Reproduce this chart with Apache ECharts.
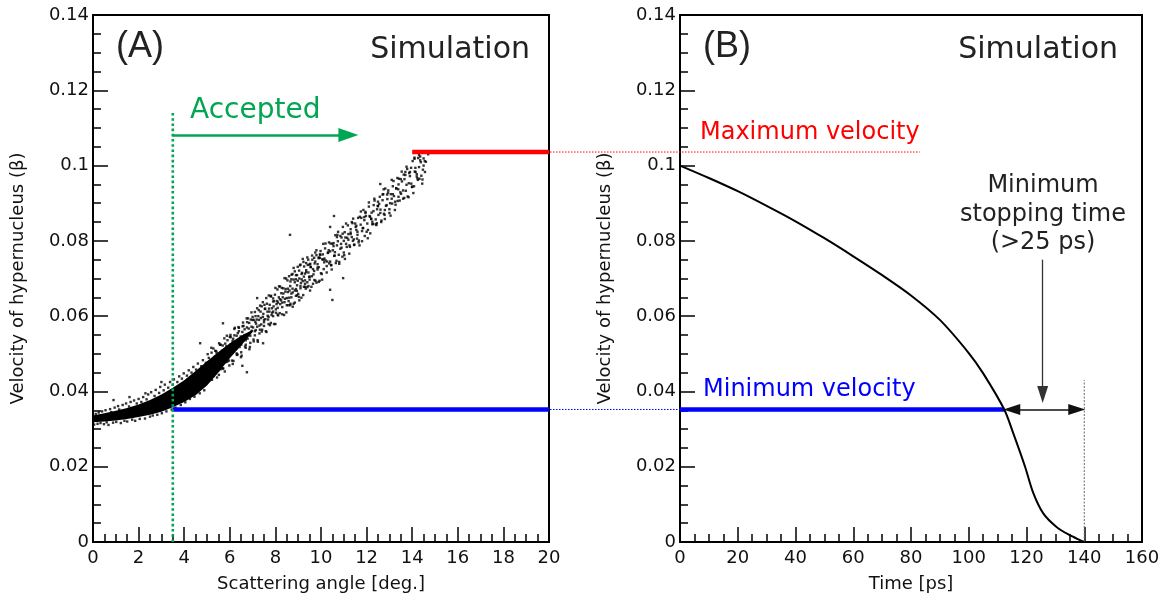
<!DOCTYPE html>
<html>
<head>
<meta charset="utf-8">
<script src="https://cdn.jsdelivr.net/npm/echarts@6/dist/echarts.min.js"></script>
<style>
  html, body { margin: 0; padding: 0; background: #fff; }
  #chart { width: 1167px; height: 607px; }
</style>
</head>
<body>
<div id="chart"></div>
<script>
// ---- Panel A: simulated hypernucleus velocity vs. scattering angle ----
// Dense core of the event band (angle in deg, beta lower / upper edge)
const coreAngle = [0, 0.5, 1, 1.5, 2, 2.5, 3, 3.5, 4, 4.5, 5, 5.5, 6, 6.5, 7];
const coreLow   = [0.0318, 0.0320, 0.0323, 0.0327, 0.0332, 0.0338, 0.0346, 0.0358, 0.0372, 0.0390, 0.0416, 0.0450, 0.0488, 0.0522, 0.0558];
const coreHigh  = [0.0336, 0.0342, 0.0349, 0.0356, 0.0365, 0.0377, 0.0392, 0.0410, 0.0430, 0.0454, 0.0480, 0.0505, 0.0528, 0.0548, 0.0564];

// Individual events, [angle (deg), beta]
const eventsLowAngle = [
  [0.05,.0312],[0.12,.0340],[0.2,.0314],[0.25,.0344],[0.33,.0316],[0.4,.0347],[0.48,.0313],[0.55,.0350],
  [0.6,.0318],[0.68,.0311],[0.75,.0353],[0.8,.0345],[0.88,.0317],[0.95,.0357],[1.02,.0319],[1.1,.0361],
  [1.15,.0352],[1.22,.0316],[1.3,.0364],[1.38,.0322],[1.45,.0368],[1.5,.0320],[1.58,.0360],[1.65,.0372],
  [1.72,.0325],[1.8,.0376],[1.85,.0322],[1.92,.0368],[2.0,.0380],[2.05,.0327],[2.12,.0372],[2.2,.0385],
  [2.28,.0328],[2.35,.0379],[2.42,.0392],[2.5,.0333],[2.55,.0398],[2.62,.0336],[2.7,.0388],[2.75,.0404],
  [2.82,.0338],[2.9,.0396],[2.95,.0412],[3.02,.0342],[3.1,.0403],[3.15,.0418],[3.22,.0347],[3.3,.0410],
  [3.38,.0425],[3.45,.0352],[3.5,.0418],[3.55,.0432],[3.62,.0357],[3.7,.0425],[3.78,.0440],[3.85,.0364],
  [3.9,.0434],[3.98,.0448],[4.05,.0371],[4.12,.0442],[4.2,.0456],[4.25,.0380],[4.32,.0450],[4.4,.0465],
  [4.45,.0386],[4.52,.0458],[4.6,.0474],[4.68,.0395],[4.75,.0467],[4.82,.0483],[4.88,.0403],[4.95,.0476],
  [0.9,.0377],[1.6,.0385],[2.3,.0395],[3.0,.0425],[4.7,.0528],[0.3,.0335],[1.75,.0340],[2.65,.0370],
  [3.4,.0395],[4.15,.0410]
];
const eventsMidAngle = [
  [5.02,.0441],[5.08,.0489],[5.12,.0461],[5.18,.0481],[5.22,.0431],[5.28,.0514],[5.33,.0480],[5.38,.0449],
  [5.42,.0503],[5.48,.0474],[5.52,.0444],[5.57,.0524],[5.62,.0473],[5.66,.0508],[5.71,.0461],[5.76,.0541],
  [5.8,.0504],[5.85,.0478],[5.9,.0536],[5.94,.0516],[5.98,.0469],[6.03,.0550],[6.07,.0502],[6.12,.0534],
  [6.16,.0481],[6.2,.0566],[6.25,.0520],[6.3,.0548],[6.34,.0498],[6.38,.0571],[6.43,.0518],[6.48,.0546],
  [6.52,.0495],[6.56,.0573],[6.6,.0536],[6.65,.0565],[6.7,.0516],[6.74,.0594],[6.78,.0540],[6.83,.0567],
  [6.88,.0518],[6.92,.0591],[6.96,.0561],[7.0,.0590],[7.05,.0533],[7.1,.0611],[7.14,.0563],[7.18,.0591],
  [7.22,.0536],[7.27,.0616],[7.32,.0564],[7.36,.0595],[7.4,.0559],[7.45,.0637],[7.5,.0590],[7.54,.0619],
  [7.58,.0560],[7.63,.0633],[7.68,.0591],[7.72,.0620],[7.76,.0576],[7.81,.0654],[7.86,.0609],[7.9,.0639],
  [7.94,.0579],[7.98,.0657],[8.03,.0609],[8.08,.0640],[8.12,.0602],[8.16,.0679],[8.21,.0632],[8.26,.0661],
  [8.3,.0605],[8.35,.0674],[8.4,.0637],[8.44,.0665],[8.48,.0610],[8.53,.0695],[8.58,.0640],[8.62,.0668],
  [8.66,.0633],[8.71,.0710],[8.76,.0663],[8.8,.0697],[8.85,.0636],[8.9,.0709],[8.94,.0667],[8.98,.0694],
  [9.03,.0651],[9.08,.0735],[9.12,.0688],[9.17,.0715],[9.22,.0656],[9.26,.0732],[9.3,.0686],[9.35,.0717],
  [9.4,.0677],[9.44,.0750],[9.48,.0704],[9.53,.0739],[9.58,.0678],[9.62,.0750],[9.67,.0711],[9.72,.0740],
  [9.76,.0694],[9.8,.0775],[9.85,.0729],[9.9,.0756],[9.94,.0694],[9.98,.0773],
  [5.05,.0470],[5.15,.0455],[5.25,.0485],[5.35,.0492],[5.45,.0468],[5.55,.0496],[5.65,.0487],[5.75,.0510],
  [5.85,.0520],[5.95,.0498],[6.05,.0525],[6.15,.0540],[6.25,.0532],[6.35,.0555],[6.45,.0540],[6.55,.0558],
  [6.65,.0550],[6.75,.0570],[6.85,.0582],[6.95,.0572],[7.05,.0590],[7.15,.0580],[7.25,.0600],[7.35,.0612],
  [7.45,.0598],[7.55,.0620],[7.65,.0612],[7.75,.0630],[7.85,.0621],[7.95,.0640],[8.05,.0632],[8.15,.0650],
  [8.25,.0642],[8.35,.0660],[8.45,.0672],[8.55,.0664],[8.65,.0680],[8.75,.0673],[8.85,.0690],[8.95,.0682],
  [9.05,.0700],[9.15,.0712],[9.25,.0705],[9.35,.0722],[9.45,.0716],[9.55,.0730],[9.65,.0725],[9.75,.0745],
  [9.85,.0738],[9.95,.0755],
  [5.1,.0448],[5.3,.0460],[5.5,.0476],[5.7,.0484],[5.9,.0494],[6.1,.0504],[6.3,.0515],[6.5,.0524],
  [6.7,.0536],[6.9,.0548],[7.1,.0560],[7.3,.0575],[7.5,.0584],[7.7,.0598],[7.9,.0612],[8.1,.0622],
  [8.3,.0636],[8.5,.0648],[8.7,.0660],[8.9,.0672],[9.1,.0680],[9.3,.0695],[9.5,.0705],[9.7,.0720],
  [9.9,.0730],
  [5.03,.0499],[5.11,.0430],[5.19,.0516],[5.27,.0446],[5.36,.0508],[5.44,.0437],[5.53,.0528],[5.61,.0459],
  [5.69,.0522],[5.78,.0453],[5.87,.0548],[5.96,.0482],[6.04,.0544],[6.13,.0473],[6.22,.0569],[6.31,.0497],
  [6.4,.0560],[6.49,.0491],[6.58,.0583],[6.67,.0519],[6.76,.0584],[6.86,.0512],[6.95,.0610],[7.04,.0538],
  [7.13,.0600],[7.23,.0532],[7.33,.0628],[7.42,.0564],[7.52,.0630],[7.61,.0558],[7.71,.0655],[7.8,.0582],
  [7.9,.0647],[8.0,.0579],[8.09,.0671],[8.19,.0608],[8.28,.0675],[8.38,.0603],[8.47,.0700],[8.57,.0629],
  [8.66,.0692],[8.76,.0625],[8.85,.0719],[8.95,.0655],[9.04,.0721],[9.14,.0649],[9.23,.0744],[9.33,.0673],
  [9.42,.0736],[9.52,.0668],[9.61,.0761],[9.71,.0696],[9.8,.0762],[9.9,.0691],[9.97,.0763],
  [5.2,.0503],[5.4,.0507],[5.6,.0524],[5.8,.0527],[6.0,.0545],[6.2,.0549],[6.4,.0569],[6.6,.0574],
  [6.8,.0594],[7.0,.0598],[7.2,.0621],[7.4,.0626],[7.6,.0648],[7.8,.0652],[8.0,.0675],[8.2,.0679],
  [8.4,.0701],[8.6,.0706],[8.8,.0728],[8.98,.0731],[9.2,.0752],[9.4,.0756],
  [5.3,.0441],[5.5,.0456],[5.7,.0461],[5.9,.0480],[6.1,.0482],[6.3,.0501],[6.5,.0504],[6.7,.0524],
  [6.9,.0529],[7.1,.0549],[7.3,.0554],[7.5,.0574],[7.7,.0579],[7.9,.0600],[8.1,.0604],[8.3,.0624],
  [8.5,.0629],[8.7,.0650],[8.9,.0654],[9.1,.0674],[9.3,.0678],[9.5,.0697],
  [7.02,.0570],[7.12,.0585],[7.2,.0572],[7.28,.0590],[7.38,.0578],[7.47,.0606],[7.56,.0592],[7.66,.0601],
  [7.74,.0612],[7.83,.0603],[7.92,.0626],[8.02,.0618],[8.11,.0636],[8.2,.0645],[8.32,.0650],[8.42,.0646],
  [8.55,.0673],[8.65,.0629],[8.75,.0712],[8.85,.0668],[8.95,.0709],[9.05,.0642],[9.15,.0698],[9.25,.0678],
  [9.35,.0741],[9.45,.0680],[9.55,.0731],[9.65,.0686],[9.75,.0769],[9.85,.0724],[9.95,.0764],
  [8.6,.0649],[8.7,.0698],[8.8,.0633],[8.9,.0698],[9.0,.0659],[9.1,.0737],[9.2,.0693],[9.3,.0713],
  [9.4,.0690],[9.5,.0737],[9.6,.0706],[9.7,.0755],[9.8,.0689],[9.9,.0754],
  [5.7,.0581],[7.2,.0648],[8.64,.0816],[7.46,.0528],[6.75,.0451],[6.55,.0468]
];
const eventsHighAngle = [
  [10.03,.0712],[10.08,.0764],[10.14,.0743],[10.2,.0793],[10.25,.0716],[10.31,.0769],[10.36,.0740],[10.42,.0793],
  [10.47,.0724],[10.52,.0775],[10.58,.0760],[10.63,.0815],[10.68,.0747],[10.74,.0799],[10.8,.0739],[10.85,.0813],
  [10.9,.0782],[10.96,.0837],[11.02,.0762],[11.07,.0809],[11.13,.0784],[11.18,.0841],[11.24,.0766],[11.3,.0831],
  [11.35,.0810],[11.41,.0859],[11.46,.0790],[11.52,.0837],[11.58,.0806],[11.63,.0861],[11.69,.0788],[11.74,.0843],
  [11.8,.0826],[11.86,.0882],[11.92,.0813],[11.97,.0866],[12.03,.0846],[12.1,.0891],[12.16,.0820],[12.22,.0875],
  [12.28,.0845],[12.34,.0912],[12.4,.0844],[12.46,.0884],[12.52,.0869],[12.58,.0917],[12.64,.0850],[12.7,.0908],
  [12.76,.0872],[12.82,.0939],[12.88,.0895],[12.94,.0928],[13.0,.0874],[13.06,.0924],[13.12,.0899],[13.18,.0959],
  [13.24,.0882],[13.3,.0940],[13.36,.0906],[13.42,.0965],[13.48,.0929],[13.54,.0984],[13.6,.0912],[13.66,.0964],
  [13.72,.0933],[13.78,.0991],[13.84,.0916],[13.9,.0972],[13.96,.0952],[14.02,.1012],[14.08,.0945],[14.14,.0994],
  [14.2,.0971],[14.26,.1020],[14.32,.0965],[14.38,.1009],[14.44,.0952],[14.5,.1000],[14.56,.0983],[14.3,.1028],
  [14.1,.1018],[14.7,.1030],
  [10.1,.0750],[10.4,.0772],[10.7,.0788],[11.0,.0800],[11.3,.0818],[11.6,.0824],[11.9,.0855],[12.2,.0858],
  [12.5,.0892],[12.8,.0882],[13.1,.0912],[13.4,.0950],[13.7,.0975],
  [10.05,.0751],[10.12,.0725],[10.18,.0780],[10.27,.0745],[10.34,.0775],[10.44,.0736],[10.55,.0794],[10.61,.0770],
  [10.72,.0816],[10.78,.0763],[10.88,.0792],[10.94,.0758],[11.04,.0823],[11.1,.0792],[11.2,.0818],[11.27,.0784],
  [11.38,.0847],[11.44,.0804],[11.55,.0829],[11.66,.0801],[11.77,.0861],[11.83,.0834],[11.95,.0877],[12.06,.0829],
  [12.13,.0866],[12.25,.0851],[12.31,.0895],[12.43,.0842],[12.49,.0893],[12.61,.0883],[12.73,.0924],[12.79,.0869],
  [12.91,.0911],[13.03,.0900],[13.15,.0945],[13.27,.0896],[13.39,.0937],[13.51,.0925],[13.63,.0976],[13.75,.0949],
  [13.87,.0980],[13.99,.0943],[14.11,.0984],[14.23,.0966],[14.35,.1014],[14.47,.0989],[14.6,.1010],
  [10.05,.0697],[10.15,.0753],[10.25,.0733],[10.35,.0796],[10.45,.0735],[10.55,.0786],[10.65,.0741],[10.75,.0824],
  [10.85,.0779],[10.95,.0819],[11.05,.0752],[11.15,.0808],[11.25,.0788],[11.35,.0850],[11.45,.0789],[11.55,.0840],
  [11.65,.0796],[11.75,.0878],[11.85,.0834],[11.95,.0874],[12.05,.0807],[12.15,.0864],[12.25,.0844],[12.35,.0907],
  [12.45,.0847],[12.55,.0898],[12.65,.0854],[12.75,.0937],[12.85,.0893],[12.95,.0934],[13.05,.0867],[13.15,.0924],
  [13.25,.0904],[13.35,.0967],[13.45,.0907],[13.55,.0958],[13.65,.0914],[13.75,.0997],[13.85,.0953],[13.95,.0994],
  [14.05,.0927],[14.15,.0983],[14.25,.0962],[14.35,.1024],[14.45,.0963],[14.55,.1012],
  [10.0,.0714],[10.1,.0792],[10.2,.0748],[10.3,.0768],[10.4,.0745],[10.5,.0792],[10.6,.0761],[10.7,.0810],
  [10.8,.0744],[10.9,.0809],[11.0,.0769],[11.1,.0846],[11.2,.0803],[11.3,.0822],[11.4,.0800],[11.5,.0846],
  [11.6,.0816],[11.7,.0864],[11.8,.0799],[11.9,.0863],[12.0,.0824],[12.1,.0902],[12.2,.0859],[12.3,.0879],
  [12.4,.0857],[12.5,.0904],[12.6,.0874],[12.7,.0923],[12.8,.0858],[12.9,.0923],[13.0,.0884],[13.1,.0962],
  [13.2,.0919],[13.3,.0939],[13.4,.0917],[13.5,.0964],[13.6,.0934],[13.7,.0983],[13.8,.0918],[13.9,.0983],
  [14.0,.0944],[14.1,.1021],[14.2,.0977],[14.3,.0996],[14.4,.0973],[14.5,.1019],
  [10.4,.0837],[10.57,.0866],[12.6,.0951],[10.5,.0643],[10.97,.0701],[10.4,.0670]
];

// Cut values (beta) and angular acceptance
const betaMax = 0.1036;
const betaMin = 0.0352;
const acceptAngle = 3.5;
const maxVelocityAngle = 14.0;
const acceptTop = 0.1146;
const acceptArrowBeta = 0.1081;
const acceptArrowEnd = 11.2;

// ---- Panel B: deceleration curve of the fastest hypernucleus ----
const timePs    = [0, 10, 20, 30, 40, 50, 60, 70, 80, 90, 100, 105, 112.3, 115.4, 119.5, 122.4, 125.8, 130.4, 135, 138.5, 140];
const betaCurve = [0.1, 0.0967, 0.0932, 0.0893, 0.0852, 0.0807, 0.0759, 0.0709, 0.0655, 0.0590, 0.0502, 0.0448, 0.0352, 0.0289, 0.0200, 0.0129, 0.0076, 0.0040, 0.0018, 0.0005, 0];
const crossTime = 112.3;
const stopTime = 140;
const stopMarkerTop = 0.043;
const pointerTime = 125.6;
const pointerFrom = 0.075;
const pointerTo = 0.0392;
const maxLabelEnd = 83;

// Axis tick setup
const yTicks = { min: 0, max: 0.14, interval: 0.02 };
const xTicksA = { min: 0, max: 20, interval: 2 };
const xTicksB = { min: 0, max: 160, interval: 20 };

const FONT = 'DejaVu Sans';
const INK = '#111';
const RED = '#ff0000';
const BLUE = '#0000ff';
const GREEN = '#00a651';

function axisStyle(extra) {
  return Object.assign({
    type: 'value',
    axisLine: { show: true, onZero: false, lineStyle: { color: '#000', width: 2 } },
    axisTick: { show: true, inside: true, length: 15, lineStyle: { color: '#000', width: 1.5 } },
    minorTick: { show: true, splitNumber: 4, length: 8, lineStyle: { color: '#000', width: 1.5 } },
    splitLine: { show: false },
    minorSplitLine: { show: false },
    nameLocation: 'middle',
    nameTextStyle: { fontFamily: FONT, fontSize: 18, color: INK }
  }, extra);
}

const yName = 'Velocity of hypernucleus (β)';

function segment(data, color, width, type, axisIdx) {
  return {
    type: 'line', xAxisIndex: axisIdx, yAxisIndex: axisIdx, data: data,
    symbol: 'none', silent: true, z: 4,
    lineStyle: { color: color, width: width, type: type || 'solid', cap: 'butt' }
  };
}

const chart = echarts.init(document.getElementById('chart'), null, { renderer: 'canvas' });

const tickLabel = { fontFamily: FONT, fontSize: 18, color: INK };

const option = {
  animation: false,
  backgroundColor: '#fff',
  grid: [
    { left: 93, top: 15, width: 456, height: 527, show: true, borderColor: '#000', borderWidth: 2 },
    { left: 680, top: 15, width: 462, height: 527, show: true, borderColor: '#000', borderWidth: 2 }
  ],
  xAxis: [
    axisStyle({ gridIndex: 0, min: xTicksA.min, max: xTicksA.max, interval: xTicksA.interval,
      name: 'Scattering angle [deg.]', nameGap: 33,
      axisLabel: Object.assign({ margin: 7 }, tickLabel) }),
    axisStyle({ gridIndex: 1, min: xTicksB.min, max: xTicksB.max, interval: xTicksB.interval,
      name: 'Time [ps]', nameGap: 33,
      axisLabel: Object.assign({ margin: 7 }, tickLabel) })
  ],
  yAxis: [
    axisStyle({ gridIndex: 0, min: yTicks.min, max: yTicks.max, interval: yTicks.interval,
      name: yName, nameGap: 66,
      axisLabel: Object.assign({ margin: 4 }, tickLabel) }),
    axisStyle({ gridIndex: 1, min: yTicks.min, max: yTicks.max, interval: yTicks.interval,
      name: yName, nameGap: 66,
      axisLabel: Object.assign({ margin: 4 }, tickLabel) })
  ],
  series: [
    // dense core of the simulated event band
    {
      type: 'custom', xAxisIndex: 0, yAxisIndex: 0, silent: true, z: 2,
      data: [[0, 0]],
      renderItem: function (params, api) {
        const upper = coreAngle.map((a, i) => api.coord([a, coreHigh[i]]));
        const lower = coreAngle.map((a, i) => api.coord([a, coreLow[i]])).reverse();
        return { type: 'polygon', shape: { points: upper.concat(lower) }, style: { fill: '#000' } };
      }
    },
    {
      type: 'scatter', xAxisIndex: 0, yAxisIndex: 0, silent: true, z: 3,
      symbol: 'rect', symbolSize: 2.4,
      itemStyle: { color: '#000' },
      data: eventsLowAngle.concat(eventsMidAngle, eventsHighAngle)
    },
    // cuts in panel A
    segment([[maxVelocityAngle, betaMax], [xTicksA.max, betaMax]], RED, 4.5, 'solid', 0),
    segment([[acceptAngle, betaMin], [xTicksA.max, betaMin]], BLUE, 4.5, 'solid', 0),
    Object.assign(segment([[acceptAngle, 0], [acceptAngle, acceptTop]], GREEN, 2.6, [2.6, 2.6], 0), {
      markLine: {
        silent: true, animation: false,
        label: { show: false },
        lineStyle: { color: GREEN, width: 2.6, type: 'solid' },
        symbolSize: [14, 20],
        data: [[
          { coord: [acceptAngle, acceptArrowBeta], symbol: 'none' },
          { coord: [acceptArrowEnd, acceptArrowBeta], symbol: 'triangle' }
        ]]
      }
    }),
    // panel B: deceleration curve
    {
      type: 'line', xAxisIndex: 1, yAxisIndex: 1, silent: true, z: 5,
      data: timePs.map((t, i) => [t, betaCurve[i]]),
      smooth: 0.3, symbol: 'none',
      lineStyle: { color: '#000', width: 2 },
      markLine: {
        silent: true, animation: false,
        label: { show: false },
        lineStyle: { color: '#111', width: 1.5, type: 'solid' },
        symbolSize: [11, 17],
        data: [
          [
            { coord: [crossTime + 2.6, betaMin], symbol: 'triangle' },
            { coord: [stopTime - 2.6, betaMin], symbol: 'triangle' }
          ],
          [
            { coord: [pointerTime, pointerFrom], symbol: 'none', lineStyle: { color: '#333', width: 1.3 } },
            { coord: [pointerTime, pointerTo], symbol: 'triangle' }
          ]
        ]
      }
    },
    segment([[0, betaMin], [crossTime, betaMin]], BLUE, 4.5, 'solid', 1),
    segment([[stopTime, 0], [stopTime, stopMarkerTop]], '#666', 1, [2, 1.5], 1)
  ]
};

chart.setOption(option);

// Connector lines between the panels and the text annotations
const pA1 = chart.convertToPixel({ gridIndex: 0 }, [xTicksA.max, betaMax]);
const pB1 = chart.convertToPixel({ gridIndex: 1 }, [maxLabelEnd, betaMax]);
const pA2 = chart.convertToPixel({ gridIndex: 0 }, [xTicksA.max, betaMin]);
const pB2 = chart.convertToPixel({ gridIndex: 1 }, [0, betaMin]);

function label(text, x, y, font, fill, align) {
  return { type: 'text', x: x, y: y, silent: true, z: 10,
    style: { text: text, font: font, fill: fill, align: align || 'left', verticalAlign: 'middle' } };
}

chart.setOption({
  graphic: [
    { type: 'line', silent: true, z: 1, shape: { x1: pA1[0] + 1, y1: pA1[1], x2: pB1[0], y2: pB1[1] },
      style: { stroke: RED, lineWidth: 1, lineDash: [1.5, 1.5] } },
    { type: 'line', silent: true, z: 1, shape: { x1: pA2[0] + 1, y1: pA2[1], x2: pB2[0], y2: pB2[1] },
      style: { stroke: BLUE, lineWidth: 1, lineDash: [1.5, 1.5] } },
    label('(A)', 116, 47, '36px "Liberation Sans"', '#222'),
    label('Simulation', 530, 50, '30px "DejaVu Sans"', '#222', 'right'),
    label('(B)', 703, 47, '36px "Liberation Sans"', '#222'),
    label('Simulation', 1118, 50, '30px "DejaVu Sans"', '#222', 'right'),
    label('Accepted', 190, 111, '28px "DejaVu Sans"', GREEN),
    label('Maximum velocity', 700, 133, '24px "DejaVu Sans"', RED),
    label('Minimum velocity', 703, 390, '24px "DejaVu Sans"', BLUE),
    label('Minimum', 1043, 186, '24px "DejaVu Sans"', '#222', 'center'),
    label('stopping time', 1043, 215, '24px "DejaVu Sans"', '#222', 'center'),
    label('(>25 ps)', 1043, 243, '24px "DejaVu Sans"', '#222', 'center')
  ]
});
</script>
</body>
</html>
